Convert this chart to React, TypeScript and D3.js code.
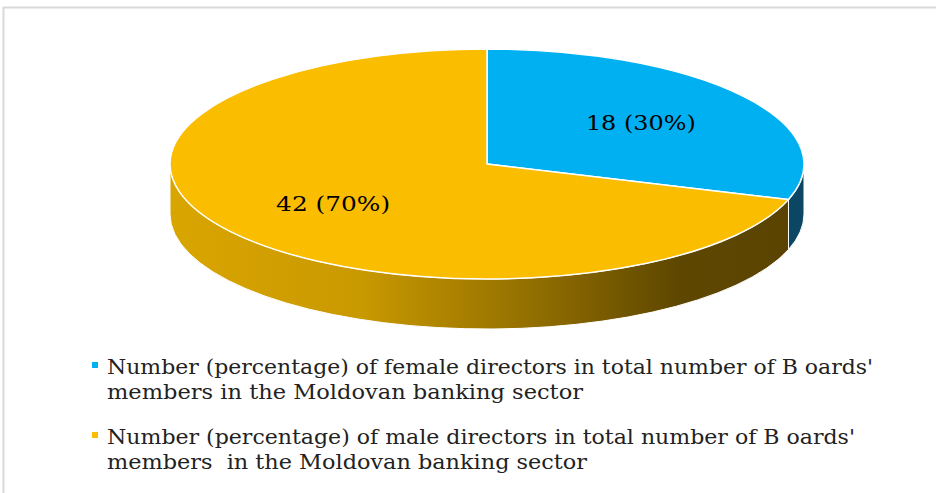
import * as d3 from 'd3';
import React from 'react';

const categories = ['female', 'male'];
const counts = [18, 42];
const sliceLabels = ['18 (30%)', '42 (70%)'];
const legendLines = [
  ["Number (percentage) of female directors in total number of B oards'", 'members in the Moldovan banking sector'],
  ["Number (percentage) of male directors in total number of B oards'", 'members  in the Moldovan banking sector'],
];
// measured widths of each legend line in the reference
const legendWidths = [
  [766, 476],
  [748, 480],
];
const labelWidths = [110, 114];
const topColors = ['#00B0F0', '#FABD00'];

const W = 936;
const H = 493;
const cx = 487;
const cy = 164;
const rx = 317;
const ry = 115;
const depth = 50;
const FONT = "'DejaVu Serif', 'Liberation Serif', serif";

// point on the ellipse, angle clockwise from 12 o'clock
const pt = (a: number, dy = 0, k = 1) => [cx + k * rx * Math.sin(a), cy + dy - k * ry * Math.cos(a)];

function topPath(a0: number, a1: number) {
  const p0 = pt(a0);
  const p1 = pt(a1);
  const large = a1 - a0 > Math.PI ? 1 : 0;
  return `M${cx},${cy}L${p0[0]},${p0[1]}A${rx},${ry} 0 ${large} 1 ${p1[0]},${p1[1]}Z`;
}

function sidePath(a0: number, a1: number) {
  const s = Math.max(a0, Math.PI / 2);
  const e = Math.min(a1, (3 * Math.PI) / 2);
  if (e <= s) return null;
  const t0 = pt(s);
  const t1 = pt(e);
  const b0 = pt(s, depth);
  const b1 = pt(e, depth);
  return `M${t0[0]},${t0[1]}A${rx},${ry} 0 0 1 ${t1[0]},${t1[1]}L${b1[0]},${b1[1]}A${rx},${ry} 0 0 0 ${b0[0]},${b0[1]}Z`;
}

export default function App() {
  const arcs = d3.pie<number>().sort(null).value((d) => d)(counts);

  return (
    <svg width={W} height={H} style={{ position: 'absolute', left: 0, top: 0, background: '#fff' }}>
      <defs>
        <linearGradient id="maleSide" gradientUnits="userSpaceOnUse" x1={cx - rx} x2={cx + rx} y1={0} y2={0}>
          <stop offset="0" stopColor="#D9A500" />
          <stop offset="0.3" stopColor="#C99900" />
          <stop offset="0.6" stopColor="#8C6A00" />
          <stop offset="0.8" stopColor="#5E4700" />
          <stop offset="1" stopColor="#5A4300" />
        </linearGradient>
      </defs>
      <rect x={3.5} y={7.5} width={W + 10} height={H + 10} fill="none" stroke="#D9D9D9" strokeWidth={2} />

      {arcs.map((a, i) => {
        const d = sidePath(a.startAngle, a.endAngle);
        return d ? (
          <path key={'s' + categories[i]} d={d} fill={i === 0 ? '#0B4764' : 'url(#maleSide)'} stroke="#fff" strokeWidth={1} />
        ) : null;
      })}
      {arcs.map((a, i) => (
        <path key={'t' + categories[i]} d={topPath(a.startAngle, a.endAngle)} fill={topColors[i]} stroke="#fff" strokeWidth={1.5} />
      ))}
      {arcs.map((a, i) => {
        const m = pt((a.startAngle + a.endAngle) / 2, 0, 0.6);
        return (
          <text key={'l' + categories[i]} x={m[0] - labelWidths[i] / 2} y={m[1] + 6.5}
            textLength={labelWidths[i]} lengthAdjust="spacingAndGlyphs"
            style={{ fontFamily: FONT }} fontSize={20} fill="#000">
            {sliceLabels[i]}
          </text>
        );
      })}

      {legendLines.map((lines, i) => (
        <g key={'lg' + i} transform={`translate(0,${i * 70})`}>
          <rect x={92} y={362} width={6} height={6} fill={topColors[i]} />
          {lines.map((t, j) => (
            <text key={j} x={107} y={374 + j * 25} textLength={legendWidths[i][j]} lengthAdjust="spacingAndGlyphs"
              style={{ fontFamily: FONT, whiteSpace: 'pre' }} fontSize={20} fill="#222">
              {t}
            </text>
          ))}
        </g>
      ))}
    </svg>
  );
}
